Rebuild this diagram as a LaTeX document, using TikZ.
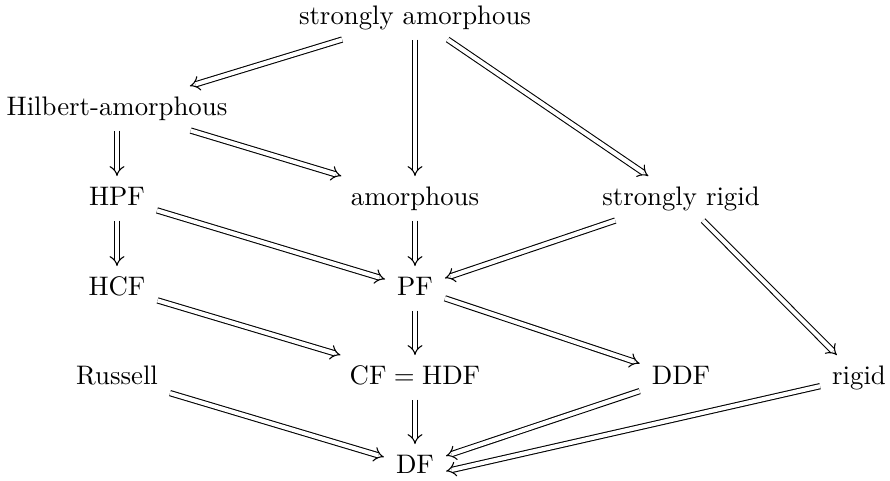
\documentclass[tikz,border=0pt]{standalone}
\usetikzlibrary{arrows.meta}

\tikzset{
  cell/.style={anchor=base, inner xsep=1ex, inner ysep=0.85ex,
               text height=6.94pt, text depth=1.94pt},
  impl/.style={double, double equal sign distance, line width=0.4pt,
               -{Implies}},
}

\begin{document}
\begin{tikzpicture}[x=0.3732pt, y=-0.3732pt]
  \useasboundingbox (0,0) rectangle (890,481);

  % the classes, laid out in rows
  \node[cell] (sa)  at (415, 24)  {strongly amorphous};
  \node[cell] (ha)  at (117, 115) {Hilbert-amorphous};
  \node[cell] (hpf) at (117, 205) {HPF};
  \node[cell] (am)  at (415, 205) {amorphous};
  \node[cell] (sr)  at (681, 205) {strongly rigid};
  \node[cell] (hcf) at (117, 295) {HCF};
  \node[cell] (pf)  at (415, 295) {PF};
  \node[cell] (ru)  at (117, 384) {Russell};
  \node[cell] (cf)  at (415, 384) {$\mathrm{CF}=\mathrm{HDF}$};
  \node[cell] (ddf) at (681, 384) {DDF};
  \node[cell] (rig) at (859, 384) {rigid};
  \node[cell] (df)  at (415, 473) {DF};

  % implications
  \draw[impl] (sa)  -- (ha);
  \draw[impl] (sa)  -- (am);
  \draw[impl] (sa)  -- (sr);
  \draw[impl] (ha)  -- (hpf);
  \draw[impl] (ha)  -- (am);
  \draw[impl] (hpf) -- (hcf);
  \draw[impl] (hpf) -- (pf);
  \draw[impl] (am)  -- (pf);
  \draw[impl] (sr)  -- (pf);
  \draw[impl] (sr)  -- (rig);
  \draw[impl] (hcf) -- (cf);
  \draw[impl] (pf)  -- (cf);
  \draw[impl] (pf)  -- (ddf);
  \draw[impl] (ru)  -- (df);
  \draw[impl] (cf)  -- (df);
  \draw[impl] (ddf) -- (df);
  % kept clear of the DDF arrow: it meets DF lower on its right side
  \draw[impl] (rig) -- (df.-9);
\end{tikzpicture}
\end{document}
